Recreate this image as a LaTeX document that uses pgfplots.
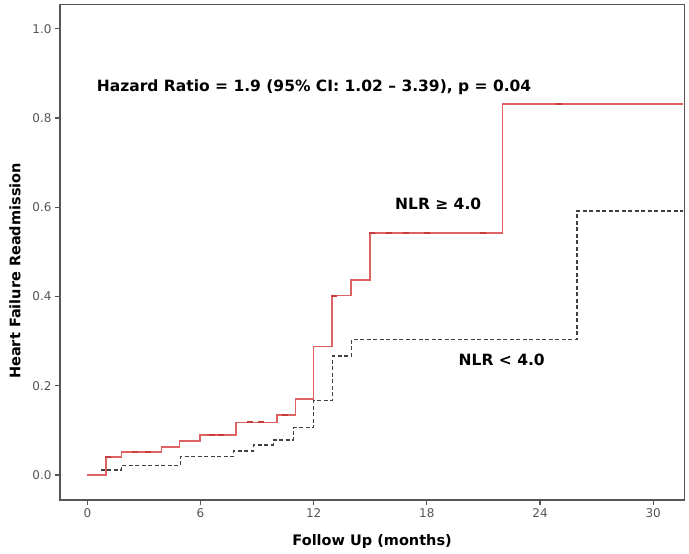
\documentclass[border=0pt]{standalone}
\usepackage{pgfplots}
\pgfplotsset{compat=1.18}
\usepackage{fontspec}
\setmainfont{DejaVu Sans}
\definecolor{kmred}{RGB}{222,98,98}
\definecolor{kmdark}{RGB}{200,60,60}
\definecolor{frame}{RGB}{85,85,85}
\definecolor{ticktext}{RGB}{85,85,85}

\begin{document}
\begin{tikzpicture}
\path[use as bounding box] (0,0) rectangle (689bp,554bp);
\begin{axis}[
    at={(60bp,54bp)}, anchor=south west,
    width=624.3bp, height=495.7bp, scale only axis,
    xmin=-1.45, xmax=31.65,
    ymin=-0.056, ymax=1.055,
    xtick={0,6,12,18,24,30},
    ytick={0,0.2,0.4,0.6,0.8,1.0},
    xtick pos=bottom, ytick pos=left,
    tick align=outside,
    major tick length=5bp,
    every tick/.style={frame, line width=1.2bp},
    axis line style={frame, line width=1.4bp},
    /pgf/number format/assume math mode=true,
    yticklabel style={/pgf/number format/.cd, fixed, fixed zerofill, precision=1},
    ticklabel style={font=\fontsize{12bp}{14bp}\selectfont, text=ticktext},
    xlabel={Follow Up (months)},
    ylabel={Heart Failure Readmission},
    label style={font=\fontsize{14.5bp}{17bp}\selectfont\bfseries},
    xlabel style={at={(axis description cs:0.5,-0.084)}, anchor=center},
    ylabel style={at={(axis description cs:-0.072,0.462)}, anchor=center},
    clip=false,
]

% NLR < 4.0
\addplot[const plot, black!75, line width=1.5bp, dash pattern=on 4bp off 2.5bp] coordinates {
    (0.72,0.011) (1.82,0.021) (4.95,0.042) (7.75,0.054) (8.8,0.067)
    (9.86,0.078) (10.92,0.106) (12.0,0.167) (13.0,0.267) (14.0,0.304)
    (25.97,0.592) (31.6,0.592)
};

% NLR >= 4.0
\addplot[const plot, kmred, line width=1.6bp] coordinates {
    (0,0) (1.0,0.041) (1.82,0.052) (3.94,0.063) (4.88,0.076) (5.97,0.090)
    (7.88,0.118) (10.04,0.134) (11.04,0.170) (12.0,0.288) (12.98,0.402)
    (13.97,0.437) (14.98,0.543) (22.01,0.831) (31.6,0.831)
};

% censored cases, NLR >= 4.0
\addplot[only marks, mark=-, mark size=3bp, kmdark, mark options={line width=2bp}] coordinates {
    (1.1,0.041) (2.5,0.052) (3.2,0.052) (6.6,0.090) (7.1,0.090) (8.6,0.118)
    (9.2,0.118) (10.5,0.134) (13.1,0.402) (15.1,0.543) (16.0,0.543)
    (16.9,0.543) (18.0,0.543) (21.0,0.543) (25.0,0.831)
};

\node[anchor=base, font=\fontsize{15.5bp}{18bp}\selectfont\bfseries]
    at (axis cs:12.02,0.859) {Hazard Ratio = 1.9 (95\% CI: 1.02 – 3.39), p = 0.04};
\node[anchor=base, font=\fontsize{15.5bp}{18bp}\selectfont\bfseries]
    at (axis cs:18.6,0.595) {NLR ≥ 4.0};
\node[anchor=base west, inner sep=0pt, font=\fontsize{15.5bp}{18bp}\selectfont\bfseries]
    at (axis cs:19.68,0.2465) {NLR < 4.0};
\end{axis}
\end{tikzpicture}
\end{document}
